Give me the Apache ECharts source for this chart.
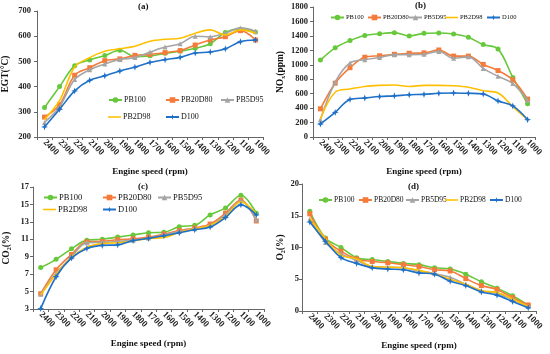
<!DOCTYPE html>
<html><head><meta charset="utf-8">
<script src="https://cdn.jsdelivr.net/npm/echarts@6/dist/echarts.min.js"></script>
<style>html,body{margin:0;padding:0;background:#fff}#c{width:550px;height:354px}</style>
</head><body><div id="c"></div>
<script>
const speeds = ['2400','2300','2200','2100','2000','1900','1800','1700','1600','1500','1400','1300','1200','1100','1000'];
const seriesNames = ['PB100','PB20D80','PB5D95','PB2D98','D100'];

// (a) EGT (°C)
const egtPB100   = [317,400,483,506,523,544,519,522,532,540,552,570,615,628,617];
const egtPB20D80 = [279,328,445,475,503,510,524,528,535,543,565,585,598,622,585];
const egtPB5D95  = [258,320,428,467,490,508,515,537,557,570,600,598,612,633,620];
const egtPB2D98  = [270,345,478,515,540,550,560,580,588,592,612,625,605,625,612];
const egtD100    = [240,310,383,425,443,462,477,496,507,516,533,537,550,578,585];

// (b) NOx (ppm)
const noxPB100   = [1065,1235,1335,1405,1430,1445,1400,1435,1440,1425,1380,1280,1220,825,460];
const noxPB20D80 = [390,745,960,1105,1125,1145,1160,1165,1205,1120,1120,1005,920,790,525];
const noxPB5D95  = [240,760,1025,1070,1100,1140,1140,1145,1185,1090,1110,950,840,740,510];
const noxPB2D98  = [250,620,665,700,715,720,700,715,715,710,690,640,610,420,240];
const noxD100    = [180,340,520,540,560,570,585,590,605,610,605,595,500,430,240];

// (c) CO2 (%)
const co2PB100   = [7.75,8.7,9.9,10.9,11.0,11.25,11.5,11.75,11.8,12.45,12.6,13.8,14.6,16.05,14.0];
const co2PB20D80 = [4.75,7.5,9.25,10.7,10.75,10.95,11.05,11.25,11.6,12.0,12.3,12.75,14.0,15.5,13.1];
const co2PB5D95  = [4.7,7.1,9.0,10.6,10.65,10.75,10.9,11.15,11.5,11.9,12.2,12.6,13.8,15.4,13.2];
const co2PB2D98  = [4.6,7.0,8.9,10.1,10.5,10.6,10.8,11.1,11.2,11.8,12.2,12.6,13.6,15.3,13.9];
const co2D100    = [3.05,6.7,8.85,9.95,10.3,10.35,10.85,11.1,11.4,11.75,12.1,12.4,13.5,14.95,13.8];

// (d) O2 (%)
const o2PB100    = [15.7,11.5,10.0,8.4,8.1,7.8,7.5,7.3,6.8,6.6,5.8,4.6,3.6,2.4,0.9];
const o2PB20D80  = [15.3,11.3,9.4,8.2,7.8,7.6,7.3,7.0,6.5,6.3,5.1,4.0,3.4,2.1,0.95];
const o2PB5D95   = [14.5,10.8,9.0,8.0,7.0,6.9,6.8,6.3,5.9,5.3,4.2,3.2,2.8,1.8,0.7];
const o2PB2D98   = [14.6,11.4,8.8,8.2,7.0,6.9,6.8,6.4,5.8,5.0,4.2,3.2,2.9,1.9,0.7];
const o2D100     = [14.0,11.0,8.4,7.5,6.8,6.6,6.5,6.0,5.8,4.7,4.0,3.0,2.5,1.5,0.5];

const panelData = [
  [egtPB100, egtPB20D80, egtPB5D95, egtPB2D98, egtD100],
  [noxPB100, noxPB20D80, noxPB5D95, noxPB2D98, noxD100],
  [co2PB100, co2PB20D80, co2PB5D95, co2PB2D98, co2D100],
  [o2PB100, o2PB20D80, o2PB5D95, o2PB2D98, o2D100]
];

const FF = '"Liberation Serif","Times New Roman",serif';
const star = 'path://M0,-10 L2.6,-2.6 L10,0 L2.6,2.6 L0,10 L-2.6,2.6 L-10,0 L-2.6,-2.6 Z';
const styles = {
  PB100:   {color:'#66C83A', symbol:'circle',   size:5},
  PB20D80: {color:'#F47B3A', symbol:'rect',     size:5},
  PB5D95:  {color:'#A5A5A5', symbol:'triangle', size:5},
  PB2D98:  {color:'#FFC000', symbol:'none',     size:0},
  D100:    {color:'#1F70C8', symbol:star,       size:7}
};

const grids = [
  {left:37, top:11, width:226, height:126},
  {left:313, top:7, width:222, height:130},
  {left:33, top:187, width:231, height:122},
  {left:302, top:184, width:234, height:127}
];
const yCfg = [
  {min:200, max:700, interval:100, name:'EGT(°C)', gap:26, margin:6},
  {min:0, max:1800, interval:200, name:'NO{s|x}(ppm)', gap:27, margin:5},
  {min:3, max:17, interval:2, name:'CO{s|2}(%)', gap:21, margin:4},
  {min:0, max:20, interval:5, name:'O{s|2}(%)', gap:16, margin:3}
];
const titles = [['(a)',138,2],['(b)',415,1],['(c)',138,182],['(d)',408,182]];

// legend layout: [name, left, centerY, fontSize]
const legendLayout = [
  ['PB100',108,100,8],['PB20D80',165,100,8],['PB5D95',220,100,8],['PB2D98',108,117,8],['D100',165,117,8],
  ['PB100',330,18,6.5],['PB20D80',367,18,6.5],['PB5D95',408,18,6.5],['PB2D98',445,18,6.5],['D100',486,18,6.5],
  ['PB100',43,197,8.5],['PB20D80',102,197,8.5],['PB5D95',157,197,8.5],['PB2D98',43,209,8.5],['D100',102,209,8.5],
  ['PB100',318,200,7.5],['PB20D80',358,200,7.5],['PB5D95',405,200,7.5],['PB2D98',445,200,7.5],['D100',489,200,7.5]
];

const axisLineStyle = {color:'#666', width:1};
const xAxes = grids.map((g,i)=>({
  type:'category', gridIndex:i, data:speeds, boundaryGap:true,
  axisLine:{lineStyle:axisLineStyle}, axisTick:{show:true, length:3, lineStyle:axisLineStyle},
  axisLabel:{rotate:-45, fontFamily:FF, fontSize:9, fontWeight:'bold', color:'#222', margin:4, interval:0},
  name:'Engine speed (rpm)', nameLocation:'middle', nameGap:30,
  nameTextStyle:{fontFamily:FF, fontSize:9, fontWeight:'bold', color:'#111'}
}));
const yAxes = yCfg.map((c,i)=>({
  type:'value', gridIndex:i, min:c.min, max:c.max, interval:c.interval,
  splitLine:{show:false},
  axisLine:{show:true, lineStyle:axisLineStyle}, axisTick:{show:true, length:3, lineStyle:axisLineStyle},
  axisLabel:{fontFamily:FF, fontSize:8.5, fontWeight:'bold', color:'#222', margin:c.margin, formatter:v=>String(v)},
  name:c.name, nameLocation:'middle', nameGap:c.gap, nameRotate:90,
  nameTextStyle:{fontFamily:FF, fontSize:9.5, fontWeight:'bold', color:'#111',
    rich:{s:{fontFamily:FF, fontSize:6, fontWeight:'bold', color:'#111', verticalAlign:'bottom', padding:[4,0,0,0]}}}
}));

const series = [];
panelData.forEach((arrs,pi)=>{
  arrs.forEach((vals,si)=>{
    const nm = seriesNames[si], st = styles[nm];
    series.push({
      type:'line', name:nm, xAxisIndex:pi, yAxisIndex:pi, data:vals,
      smooth:0.35, symbol:st.symbol, symbolSize:st.size, showSymbol:st.symbol!=='none',
      lineStyle:{color:st.color, width:1.6}, itemStyle:{color:st.color},
      animation:false, z:2+si
    });
  });
});

const legends = legendLayout.map(([nm,l,cy,fs])=>{
  const lg = {
    data:[nm], left:l, top:cy-4, itemWidth:13, itemHeight:7, itemGap:2, padding:0,
    selectedMode:false, textStyle:{fontFamily:FF, fontSize:fs, color:'#111', padding:[0,0,0,-3]}
  };
  if (nm === 'PB2D98') {
    lg.data = [{name:nm, icon:'path://M0,0 L20,0 L20,2.4 L0,2.4 Z'}];
    lg.itemHeight = 2;
  }
  return lg;
});

const option = {
  backgroundColor:'#fff', animation:false,
  title: titles.map(([t,x,y])=>({text:t, left:x, top:y, padding:0,
    textStyle:{fontFamily:FF, fontSize:9, fontWeight:'bold', color:'#111'}})),
  grid: grids,
  xAxis: xAxes, yAxis: yAxes,
  legend: legends,
  series: series
};
const chart = echarts.init(document.getElementById('c'), null, {renderer:'canvas'});
chart.setOption(option);
</script></body></html>
